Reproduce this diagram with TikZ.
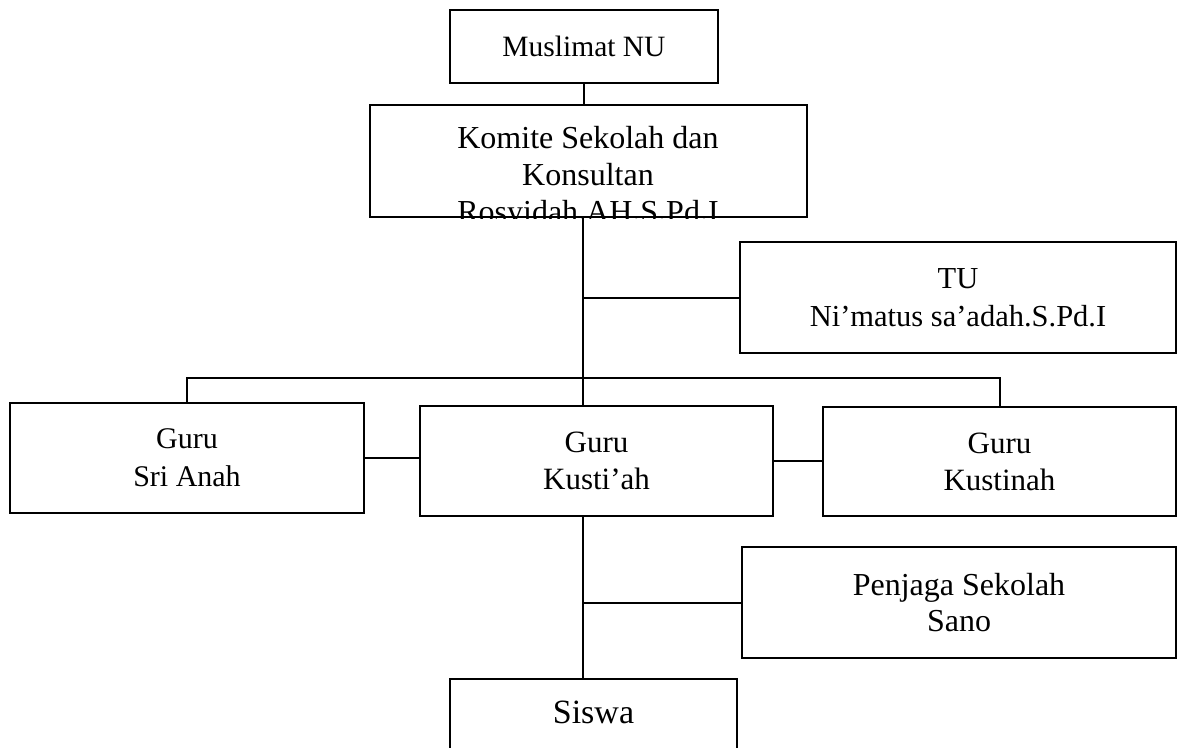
\documentclass[tikz,border=0pt]{standalone}
\usepackage{fontspec}
\setmainfont{Liberation Serif}
\usetikzlibrary{positioning, calc}

\begin{document}
\begin{tikzpicture}[x=1pt, y=-1pt,
    orgbox/.style={draw, line width=2pt, rectangle, align=center, inner sep=0pt, font=\fontsize{31}{37}\selectfont},
    link/.style={line width=2pt}]
\useasboundingbox (0,0) rectangle (1177,747);

% boxes
\node[orgbox, font=\fontsize{29.5}{35}\selectfont, minimum width=268pt, minimum height=73pt] (muslimat) at (584,46.5) {Muslimat NU};
\node[orgbox, minimum width=437pt, minimum height=112pt] (komite) at (588.5,161) {};
\begin{scope}
    \clip (komite.south west) rectangle (komite.north east);
    \node[align=center, font=\fontsize{32}{37}\selectfont] (komitetext) at (588,178) {Komite Sekolah dan\\Konsultan\\Rosyidah.AH.S.Pd.I};
\end{scope}
\node[orgbox, font=\fontsize{30.5}{38}\selectfont, minimum width=436pt, minimum height=111pt] (tu) at (958,297.5) {TU\\Ni’matus sa’adah.S.Pd.I};
\node[orgbox, font=\fontsize{30}{38}\selectfont, minimum width=354pt, minimum height=110pt] (sri) at (187,458) {Guru\\Sri Anah};
\node[orgbox, minimum width=353pt, minimum height=110pt] (kustiah) at (596.5,461) {Guru\\Kusti’ah};
\node[orgbox, minimum width=353pt, minimum height=109pt] (kustinah) at (999.5,461.5) {Guru\\Kustinah};
\node[orgbox, font=\fontsize{32}{36}\selectfont, minimum width=434pt, minimum height=111pt] (penjaga) at (959,602.5) {Penjaga Sekolah\\Sano};
\node[orgbox, font=\fontsize{34}{40}\selectfont, minimum width=287pt, minimum height=111pt, anchor=north, text depth=45pt] (siswa) at (593.5,678) {Siswa};

% lines
\coordinate (trunk) at (583,0);
\coordinate (bar) at (583,378);
\draw[link] (muslimat.south) -- (muslimat.south |- komite.north);
\draw[link] (trunk |- komite.south) -- (trunk |- kustiah.north);
\draw[link] (trunk |- tu.west) -- (tu.west);
\draw[link] (sri.north) |- (bar) -| (kustinah.north);
\draw[link] (sri.east) -- (sri.east -| kustiah.west);
\draw[link] (kustiah.east) -- (kustiah.east -| kustinah.west);
\draw[link] (trunk |- kustiah.south) -- (trunk |- siswa.north);
\draw[link] (trunk |- penjaga.west) -- (penjaga.west);
\end{tikzpicture}
\end{document}
